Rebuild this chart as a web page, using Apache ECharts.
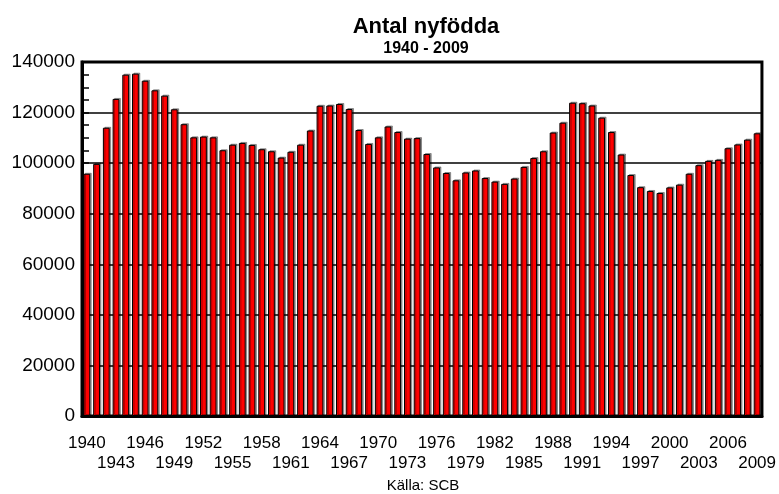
<!DOCTYPE html>
<html>
<head>
<meta charset="utf-8">
<script src="https://cdn.jsdelivr.net/npm/echarts@6/dist/echarts.min.js"></script>
<style>
html,body{margin:0;padding:0;background:#fff;}
#chart{width:779px;height:494px;}
</style>
</head>
<body>
<div id="chart"></div>
<script>
// Antal nyfödda 1940 - 2009, källa SCB

var years = [];
for (var y = 1940; y <= 2009; y++) { years.push(String(y)); }

var births = [
	95800, 99700, 114000, 125400, 135000, 135400, 132600, 128800, 126700, 121300,
	115400, 110200, 110500, 110200, 105100, 107300, 108000, 107200, 105500, 104700,
	102200, 104500, 107300, 112900, 122700, 122800, 123400, 121400, 113100, 107600,
	110200, 114500, 112300, 109700, 109900, 103600, 98300, 96100, 93200, 96300,
	97100, 94100, 92700, 91800, 93900, 98500, 102000, 104700, 112100, 116000,
	123900, 123700, 122800, 118000, 112300, 103400, 95300, 90500, 89000, 88200,
	90400, 91500, 95800, 99200, 100900, 101300, 105900, 107400, 109300, 111800
];

var myChart = echarts.init(document.getElementById('chart'));

// årtal i två rader: var sjätte år uppe, förskjutet tre år nere
var option = {
	animation:false,
	backgroundColor:'#fff',
	textStyle:{fontFamily:'Liberation Sans'},
	title:[{
		text:'Antal nyfödda',
		subtext:'1940 - 2009',
		left:421,
		top:11,
		textAlign:'center',
		itemGap:3,
		textStyle:{fontSize:22,fontWeight:'bold',color:'#000',fontFamily:'Liberation Sans'},
		subtextStyle:{fontSize:16,fontWeight:'bold',color:'#000',fontFamily:'Liberation Sans'}
	},{
		text:'Källa: SCB',
		left:423,
		top:478,
		padding:0,
		textAlign:'center',
		textStyle:{fontSize:15,fontWeight:'normal',color:'#000',fontFamily:'Liberation Sans'}
	}],
	grid:{
		left:82,
		right:17,
		top:62,
		bottom:78,
		show:true,
		borderColor:'#000',
		borderWidth:3,
		backgroundColor:'#fff'
	},
	xAxis:[{
		type:'category',
		data:years,
		axisLine:{lineStyle:{color:'#000',width:3}},
		axisTick:{show:false},
		axisLabel:{
			interval:function(i){ return i % 6 === 0; },
			color:'#000',
			fontSize:17,
			margin:19
		}
	},{
		type:'category',
		data:years,
		position:'bottom',
		axisLine:{show:false},
		axisTick:{show:false},
		axisLabel:{
			interval:function(i){ return i % 6 === 3; },
			color:'#000',
			fontSize:17,
			margin:39
		}
	}],
	yAxis:{
		type:'value',
		min:0,
		max:140000,
		interval:20000,
		axisLine:{show:true,lineStyle:{color:'#000',width:3}},
		axisTick:{show:true,inside:true,length:7,lineStyle:{color:'#000',width:1.5}},
		minorTick:{show:true,splitNumber:4,length:7,lineStyle:{color:'#000',width:1.5}},
		axisLabel:{
			color:'#000',
			fontSize:19,
			margin:7,
			padding:[4,0,0,0],
			formatter:function(v){ return String(v); }
		},
		splitLine:{show:true,lineStyle:{color:'#000',width:1.5}}
	},
	series:[{
		type:'bar',
		data:births,
		barCategoryGap:'30%',
		itemStyle:{
			color:'#ff0000',
			borderColor:'#000',
			borderWidth:1,
			shadowColor:'rgba(0,0,0,0.35)',
			shadowOffsetX:1.5,
			shadowOffsetY:-1,
			shadowBlur:0
		}
	}]
};

myChart.setOption(option);
</script>
</body>
</html>
